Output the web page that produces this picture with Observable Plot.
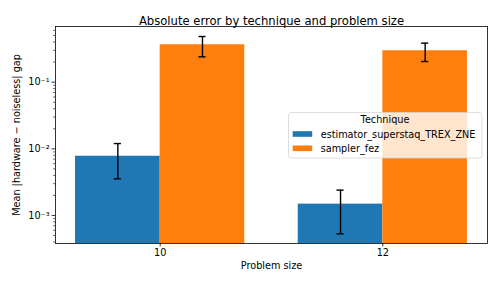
<!DOCTYPE html>
<html>
<head>
<meta charset="utf-8">
<script src="https://cdn.jsdelivr.net/npm/d3@7"></script>
<script src="https://cdn.jsdelivr.net/npm/@observablehq/plot@0.6"></script>
<style>
  html, body { margin: 0; padding: 0; background: white; }
</style>
</head>
<body>
<div id="chart"></div>
<script>
const title = "Absolute error by technique and problem size";
const xLabel = "Problem size";
const yLabel = "Mean |hardware \u2212 noiseless| gap";
const legendTitle = "Technique";
const sizes = ["10", "12"];
const techniques = ["estimator_superstaq_TREX_ZNE", "sampler_fez"];
const colors = ["#1f77b4", "#ff7f0e"];
// per technique, per problem size
const means = [[0.00774, 0.00148], [0.364, 0.296]];
const errLow = [[0.00355, 0.00053], [0.240, 0.204]];
const errHigh = [[0.0120, 0.00240], [0.484, 0.385]];
const yTicks = [1e-3, 1e-2, 1e-1];
const yTickLabels = ["10\u207B\u00B3", "10\u207B\u00B2", "10\u207B\u00B9"];

const yDomain = [3.8e-4, 0.684];
const barW = 0.38;
const cap = 0.016;

const rows = [];
techniques.forEach((t, ti) => sizes.forEach((s, si) => rows.push({
  t, ti, si, mean: means[ti][si], lo: errLow[ti][si], hi: errHigh[ti][si]
})));
const cx = d => d.si + (d.ti - 0.5) * barW;

const minorTicks = [];
for (let e = -4; e <= 0; e++) for (let m = 2; m <= 9; m++) {
  const v = m * Math.pow(10, e);
  if (v >= yDomain[0] && v <= yDomain[1]) minorTicks.push(v);
}

const chart = Plot.plot({
  width: 498,
  height: 285,
  marginLeft: 55,
  marginRight: 11,
  marginTop: 26,
  marginBottom: 42,
  style: { fontFamily: "DejaVu Sans", fontSize: "9.7px", background: "white", color: "black" },
  x: { domain: [-0.47, 1.47] },
  y: { type: "log", domain: yDomain },
  color: { domain: techniques, range: colors },
  marks: [
    Plot.rectY(rows, { x1: d => cx(d) - barW / 2, x2: d => cx(d) + barW / 2, y1: () => yDomain[0], y2: "mean", fill: "t", inset: 0 }),
    Plot.ruleX(rows, { x: cx, y1: "lo", y2: "hi", stroke: "black", strokeWidth: 1.4 }),
    Plot.ruleY(rows, { y: "lo", x1: d => cx(d) - cap, x2: d => cx(d) + cap, stroke: "black", strokeWidth: 1.4 }),
    Plot.ruleY(rows, { y: "hi", x1: d => cx(d) - cap, x2: d => cx(d) + cap, stroke: "black", strokeWidth: 1.4 }),
    Plot.axisX({ ticks: [0, 1], tickFormat: i => sizes[i], tickSize: 3.4, tickPadding: 2.5, label: null, strokeWidth: 0.8 }),
    Plot.axisY({ ticks: yTicks, tickFormat: v => yTickLabels[yTicks.indexOf(v)], tickSize: 3.4, tickPadding: 2.5, label: null, strokeWidth: 0.8 }),
    Plot.axisY({ ticks: minorTicks, tickFormat: () => "", tickSize: 1.9, label: null, strokeWidth: 0.6 }),
    Plot.frame({ stroke: "black", strokeWidth: 0.8 }),
    Plot.text([title], { frameAnchor: "top", dy: -10, fontSize: 11.6 }),
    Plot.text([xLabel], { frameAnchor: "bottom", dy: 25, fontSize: 9.7 }),
    Plot.text([yLabel], { frameAnchor: "left", dx: -39, rotate: -90, textAnchor: "middle", fontSize: 9.7 })
  ]
});
document.getElementById("chart").appendChild(chart);

// Legend
const svg = d3.select(chart);
const lg = svg.append("g").attr("font-family", "DejaVu Sans").attr("font-size", 9.7).attr("text-anchor", "start");
lg.append("rect").attr("x", 288.5).attr("y", 112.5).attr("width", 193.5).attr("height", 45.5)
  .attr("rx", 2.5).attr("fill", "white").attr("fill-opacity", 0.8).attr("stroke", "#d5d5d5").attr("stroke-width", 0.8);
lg.append("text").attr("x", 385).attr("y", 122.5).attr("text-anchor", "middle").text(legendTitle);
techniques.forEach((t, i) => {
  const yc = 134 + i * 14.3;
  lg.append("rect").attr("x", 292.7).attr("y", yc - 2.8).attr("width", 19.5).attr("height", 5.6).attr("fill", colors[i]);
  lg.append("text").attr("x", 320.7).attr("y", yc + 3.5).attr("text-anchor", "start").text(t);
});
</script>
</body>
</html>
